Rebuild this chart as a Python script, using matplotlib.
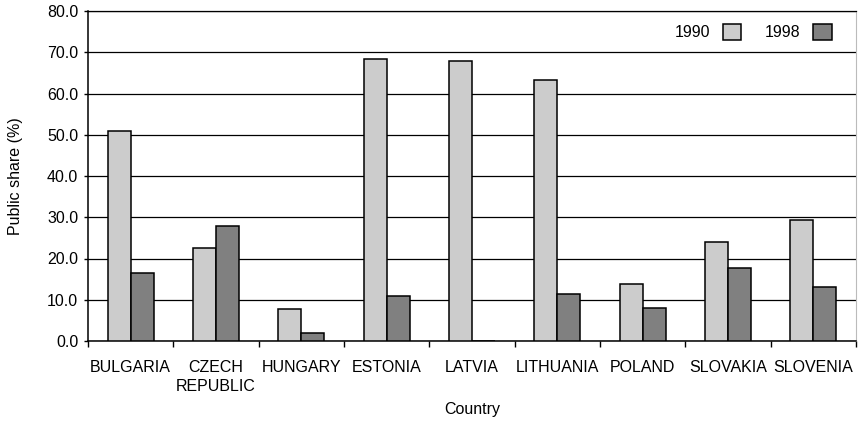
import matplotlib
matplotlib.use("Agg")
import matplotlib.pyplot as plt
import numpy as np

countries = ["BULGARIA", "CZECH\nREPUBLIC", "HUNGARY", "ESTONIA", "LATVIA",
             "LITHUANIA", "POLAND", "SLOVAKIA", "SLOVENIA"]
share_1990 = [50.8, 22.5, 7.8, 68.4, 67.9, 63.2, 13.7, 24.0, 29.4]
share_1998 = [16.6, 27.9, 1.9, 10.9, 0.0, 11.4, 8.1, 17.7, 13.2]
y_ticks = [0, 10, 20, 30, 40, 50, 60, 70, 80]

plt.rcParams["font.family"] = ["Liberation Sans", "DejaVu Sans"]
plt.rcParams["font.size"] = 11.5

fig = plt.figure(figsize=(8.58, 4.24), dpi=100)
ax = fig.add_axes([88 / 858, 1 - 341 / 424, (856 - 88) / 858, (341 - 11) / 424])

x = np.arange(len(countries))
w = 0.27
ax.bar(x - w / 2, share_1990, w, color="#cccccc", edgecolor="black", linewidth=1.1,
       label="1990", zorder=3)
ax.bar(x + w / 2, share_1998, w, color="#808080", edgecolor="black", linewidth=1.1,
       label="1998", zorder=3)

ax.set_xlim(-0.5, len(countries) - 0.5)
ax.set_ylim(0, 80)
ax.set_yticks(y_ticks)
ax.set_yticklabels([f"{v:.1f}" for v in y_ticks])
ax.yaxis.grid(True, color="black", linewidth=0.9, zorder=0)

ax.set_xticks(x)
ax.set_xticklabels(countries, linespacing=1.35)
ax.set_xticks(np.arange(-0.5, len(countries)), minor=True)
ax.tick_params(axis="x", which="major", length=0, pad=13.5)
ax.tick_params(axis="x", which="minor", length=4, width=1.0, direction="out")
ax.tick_params(axis="y", length=3, width=1.0, pad=4)

for side in ["left", "bottom"]:
    ax.spines[side].set_color("black")
    ax.spines[side].set_linewidth(1.1)
ax.spines["top"].set_color("black")
ax.spines["top"].set_linewidth(0.9)
ax.spines["right"].set_color("#bbbbbb")
ax.spines["right"].set_linewidth(0.8)

ax.set_xlabel("Country", labelpad=6)
ax.set_ylabel("Public share (%)", labelpad=17)

leg = ax.legend(loc="upper right", ncol=2, frameon=False, markerfirst=False,
                handlelength=1.15, handleheight=1.15, columnspacing=1.5,
                handletextpad=0.8, bbox_to_anchor=(0.987, 1.005))

fig.savefig("out.png", dpi=100)
